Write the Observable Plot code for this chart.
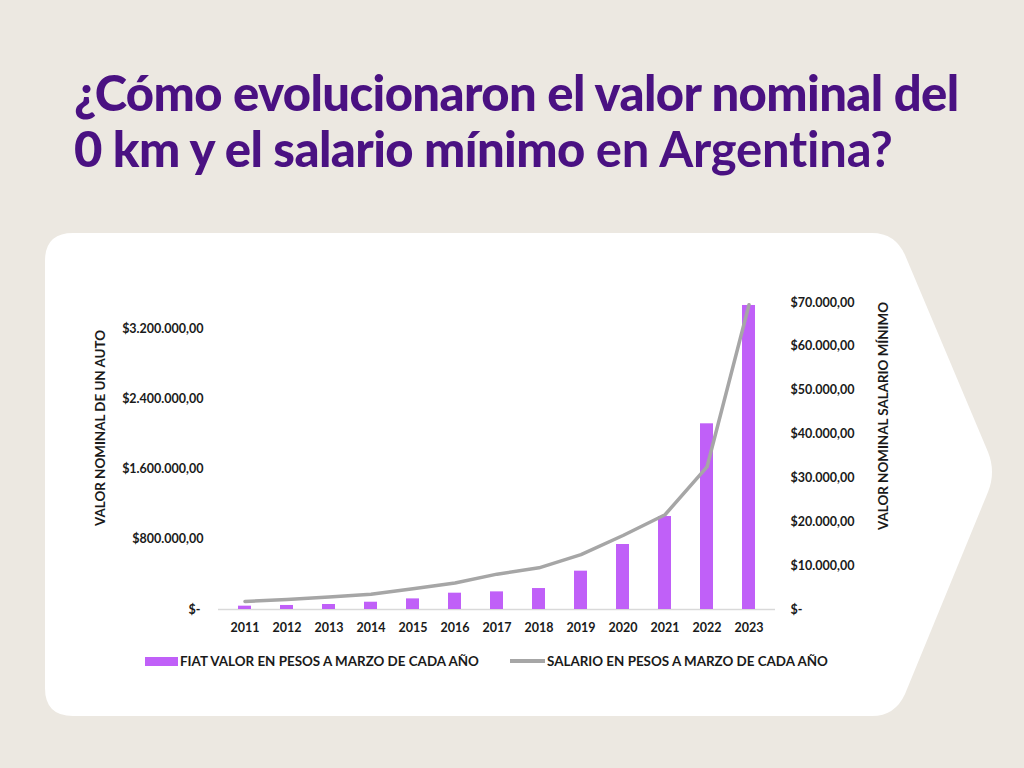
<!DOCTYPE html>
<html>
<head>
<meta charset="utf-8">
<script src="https://cdn.jsdelivr.net/npm/d3@7"></script>
<script src="https://cdn.jsdelivr.net/npm/@observablehq/plot@0.6"></script>
<style>
  html, body { margin: 0; padding: 0; }
  body { width: 1024px; height: 768px; background: #ece8e1; position: relative; overflow: hidden; font-family: Lato, "Noto Sans", sans-serif; }
  #card { position: absolute; left: 0; top: 0; }
  #title { position: absolute; left: 74px; top: 64px; color: #4a1182; font-family: Lato, sans-serif; font-size: 49px; line-height: 56px; letter-spacing: -0.6px; font-weight: 900; white-space: nowrap; }
  #title .light { font-weight: 700; letter-spacing: -0.2px; }
  #chart { position: absolute; left: 0; top: 280px; }
  .ytitle { position: absolute; font-family: Lato, sans-serif; font-weight: 700; font-size: 13.4px; color: #1a1a1a; white-space: nowrap; transform-origin: center center; }
  #legend { position: absolute; top: 653px; left: 0; width: 1024px; height: 18px; font-family: Lato, sans-serif; font-weight: 700; font-size: 13.4px; color: #1a1a1a; }
  .lg { position: absolute; top: 0; display: flex; align-items: center; white-space: nowrap; }
  .sw { display: inline-block; margin-right: 2px; }
</style>
</head>
<body>
<svg id="card" width="1024" height="768">
  <path d="M 73 233 H 872 Q 895 233 905 255 L 988 452 Q 996 472 988 492 L 905 694 Q 895 716 872 716 H 73 Q 45 716 45 688 V 261 Q 45 233 73 233 Z" fill="#ffffff"/>
</svg>
<div id="title">¿Cómo evolucionaron el valor nominal del<br>0 km y el salario mínimo <span class="light">en Argentina?</span></div>
<div id="chart"></div>
<div class="ytitle" id="yl">VALOR NOMINAL DE UN AUTO</div>
<div class="ytitle" id="yr">VALOR NOMINAL SALARIO MÍNIMO</div>
<div id="legend">
  <div class="lg" style="left:145px"><span class="sw" style="width:33px;height:9px;background:#c060f8"></span><span id="lg1">FIAT VALOR EN PESOS A MARZO DE CADA AÑO</span></div>
  <div class="lg" style="left:510px"><span class="sw" style="width:35px;height:4px;background:#a6a6a6"></span><span id="lg2">SALARIO EN PESOS A MARZO DE CADA AÑO</span></div>
</div>
<script>
// Data
const years = ["2011","2012","2013","2014","2015","2016","2017","2018","2019","2020","2021","2022","2023"];
const fiat = [38000, 46000, 57000, 83000, 121000, 186000, 201000, 239000, 437000, 741000, 1060000, 2117000, 3466000];
const salario = [1840, 2300, 2875, 3500, 4716, 6060, 8060, 9500, 12500, 16875, 21600, 32500, 69500];
const leftTicks = [0, 800000, 1600000, 2400000, 3200000];
const rightTicks = [0, 10000, 20000, 30000, 40000, 50000, 60000, 70000];
const leftMax = 3500000;
const rightMax = 70000;

const ratio = leftMax / rightMax;
const loc = d3.formatLocale({decimal: ",", thousands: ".", grouping: [3], currency: ["$", ""]});
const money = loc.format("$,.2f");
const fmt = v => v === 0 ? "$-\u00a0" : money(v);

const rows = years.map((y, i) => ({year: y, fiat: fiat[i], sal: salario[i] * ratio}));

const plot = Plot.plot({
  width: 1024,
  height: 369,
  marginTop: 22,
  marginBottom: 40,
  marginLeft: 218,
  marginRight: 249,
  style: {background: "transparent", fontFamily: "Lato, sans-serif", fontSize: "12.5px", fontWeight: 700, color: "#1a1a1a"},
  x: {domain: years, paddingInner: 0.69, paddingOuter: 0.345, align: 0.5, label: null},
  y: {domain: [0, leftMax], label: null},
  marks: [
    Plot.axisX({tickSize: 0, tickPadding: 14, label: null, fill: "#1a1a1a"}),
    Plot.axisY({anchor: "left", ticks: leftTicks, tickFormat: fmt, tickSize: 0, tickPadding: 15, label: null, fill: "#1a1a1a"}),
    Plot.axisY({anchor: "right", ticks: rightTicks.map(v => v * ratio), tickFormat: d => fmt(Math.round(d / ratio)), tickSize: 0, tickPadding: 15, label: null, fill: "#1a1a1a"}),
    Plot.ruleY([0], {stroke: "#d9d9d9", strokeWidth: 1.5}),
    Plot.barY(rows, {x: "year", y: "fiat", fill: "#c060f8"}),
    Plot.line(rows, {x: "year", y: "sal", stroke: "#a6a6a6", strokeWidth: 3.5, curve: "linear"})
  ]
});
document.getElementById("chart").appendChild(plot);

// position rotated axis titles
function placeRot(id, cx, cy) {
  const el = document.getElementById(id);
  const w = el.offsetWidth, h = el.offsetHeight;
  el.style.left = (cx - w / 2) + "px";
  el.style.top = (cy - h / 2) + "px";
  el.style.transform = "rotate(-90deg)";
}
placeRot("yl", 100, 428);
placeRot("yr", 883, 416);
</script>
</body>
</html>
